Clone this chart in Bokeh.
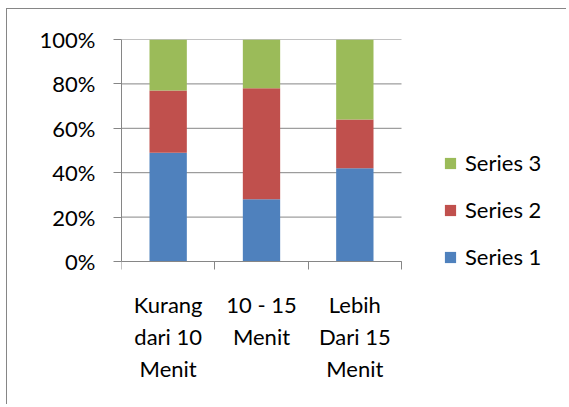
from bokeh.plotting import figure
from bokeh.models import (FixedTicker, NumeralTickFormatter, Legend, LegendItem,
                          ColumnDataSource)
from bokeh.embed import file_html
from bokeh.resources import INLINE

categories = ["Kurang\ndari 10\nMenit", "10 - 15\nMenit", "Lebih\nDari 15\nMenit"]
series_names = ["Series 1", "Series 2", "Series 3"]
series1 = [0.49, 0.28, 0.42]
series2 = [0.28, 0.50, 0.22]
series3 = [0.23, 0.22, 0.36]
y_ticks = [0, 0.2, 0.4, 0.6, 0.8, 1.0]
colors = ["#4F81BD", "#C0504D", "#9BBB59"]

FONT = "Lato"
FS = "22px"
GRID = "#868686"

W, H = 560, 396
ML, MT = 114, 30
PLOT_W, PLOT_H = 280, 222   # pixel size of the category / 0-100% area
EXTRA = 136                 # frame extends below 0% so legend and labels are not clipped
MB = H - MT - PLOT_H - EXTRA
n = len(categories)
x_end = n * (W - ML) / PLOT_W
y_start = -EXTRA / PLOT_H

xpos = [i + 0.5 for i in range(n)]
src = ColumnDataSource(dict(x=xpos, s1=series1, s2=series2, s3=series3))

p = figure(width=W, height=H, x_range=(0, x_end), y_range=(y_start, 1),
           output_backend="svg", toolbar_location=None,
           min_border_left=ML, min_border_right=0,
           min_border_top=MT, min_border_bottom=MB)
p.styles = {"border-left": "1px solid " + GRID, "border-top": "1px solid " + GRID,
            "margin-left": "6px", "margin-top": "8px"}
p.outline_line_color = None
p.background_fill_color = "white"
p.border_fill_color = "white"

# gridlines only across the category area
p.segment(x0=[0] * len(y_ticks), x1=[n] * len(y_ticks), y0=y_ticks, y1=y_ticks,
          line_color=GRID, line_width=1)

renderers = p.vbar_stack(["s1", "s2", "s3"], x="x", width=0.4, source=src,
                         color=colors, line_color=None)

# axes
p.xaxis.fixed_location = 0
p.xaxis.bounds = (0, n)
p.xaxis.ticker = FixedTicker(ticks=xpos, minor_ticks=list(range(n + 1)))
p.xaxis.major_label_overrides = {x: c for x, c in zip(xpos, categories)}
p.xaxis.major_tick_out = 0
p.xaxis.major_tick_in = 0
p.xaxis.minor_tick_out = 8
p.xaxis.minor_tick_in = 0
p.xaxis.minor_tick_line_color = GRID
p.xaxis.axis_line_color = GRID
p.xaxis.major_label_standoff = 21
p.xaxis.major_label_text_font = FONT
p.xaxis.major_label_text_font_size = FS
p.xaxis.major_label_text_color = "black"
p.xaxis.major_label_text_line_height = 1.2

p.yaxis.bounds = (0, 1)
p.yaxis.ticker = FixedTicker(ticks=y_ticks, minor_ticks=[])
p.yaxis.formatter = NumeralTickFormatter(format="0%")
p.yaxis.major_tick_out = 8
p.yaxis.major_tick_in = 0
p.yaxis.major_tick_line_color = GRID
p.yaxis.axis_line_color = GRID
p.yaxis.major_label_standoff = 18
p.yaxis.major_label_text_font = FONT
p.yaxis.major_label_text_font_size = FS
p.yaxis.major_label_text_color = "black"

p.xgrid.grid_line_color = None
p.ygrid.grid_line_color = None

items = [LegendItem(label=series_names[i], renderers=[renderers[i]]) for i in (2, 1, 0)]
legend = Legend(items=items, location=(322, EXTRA - 9), orientation="vertical",
                padding=0, margin=0, border_line_color=None,
                background_fill_alpha=0,
                glyph_width=14, glyph_height=14, label_standoff=8,
                label_height=14, spacing=20,
                label_text_font=FONT, label_text_font_size=FS,
                label_text_color="black")
p.add_layout(legend, "center")

open("out.html", "w").write(file_html(p, INLINE))
